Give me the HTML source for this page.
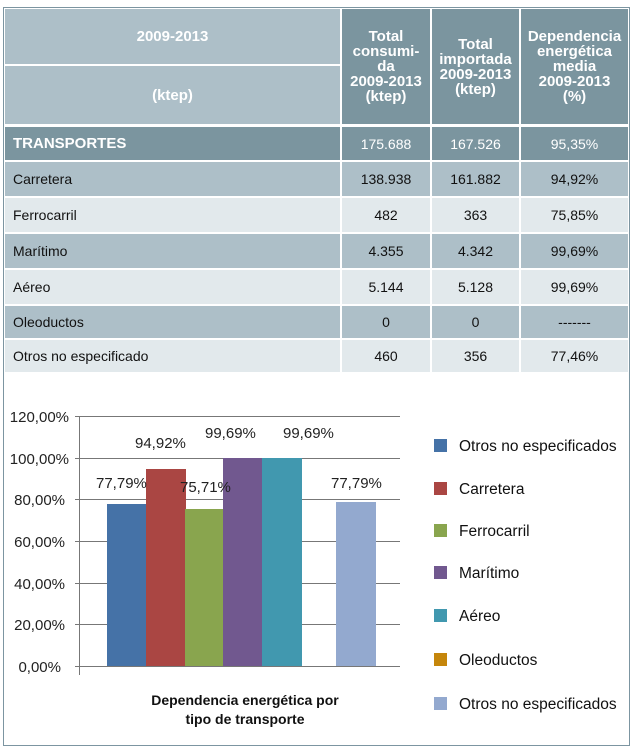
<!DOCTYPE html><html><head><style>
body{margin:0;width:634px;height:754px;background:#fff;font-family:"Liberation Sans",sans-serif;position:relative;overflow:hidden}
.o{position:absolute;left:3px;top:7px;width:625px;height:737px;border:1px solid #7c95a1}
.c{position:absolute;display:flex;align-items:center;justify-content:center;font-size:14px;color:#111;box-sizing:border-box}
.l{background:#adbfc8}.d{background:#7b959f;color:#fff;font-weight:bold}.p{background:#e2e9ec}
.L{justify-content:flex-start;padding-left:8px}
.h{color:#fff;font-weight:bold;font-size:15px;text-align:center;line-height:15px}
</style></head><body>
<div class="o"></div>
<div class="c l h" style="left:5px;top:9px;width:335px;height:55px">2009-2013</div>
<div class="c l h" style="left:5px;top:66px;width:335px;height:58px">(ktep)</div>
<div class="c d h" style="left:342px;top:9px;width:88px;height:115px">Total<br>consumi-<br>da<br>2009-2013<br>(ktep)</div>
<div class="c d h" style="left:432px;top:9px;width:87px;height:115px">Total<br>importada<br>2009-2013<br>(ktep)</div>
<div class="c d h" style="left:521px;top:9px;width:107px;height:115px">Dependencia<br>energética<br>media<br>2009-2013<br>(%)</div>
<div id="rows"></div>
<svg style="position:absolute;left:0;top:0" width="634" height="754" font-family="Liberation Sans, sans-serif">
<g stroke="#777" stroke-width="1">
<line x1="75" y1="416.5" x2="400" y2="416.5"/><line x1="75" y1="458.5" x2="400" y2="458.5"/><line x1="75" y1="499.5" x2="400" y2="499.5"/><line x1="75" y1="541.5" x2="400" y2="541.5"/><line x1="75" y1="583.5" x2="400" y2="583.5"/><line x1="75" y1="624.5" x2="400" y2="624.5"/><line x1="75" y1="666.5" x2="400" y2="666.5"/><line x1="79.5" y1="416" x2="79.5" y2="675"/>
</g>
<g font-size="15" fill="#222" text-anchor="end">
<text x="69" y="422">120,00%</text><text x="69" y="464">100,00%</text><text x="65" y="505">80,00%</text><text x="65" y="547">60,00%</text><text x="65" y="589">40,00%</text><text x="65" y="630">20,00%</text><text x="61" y="672">0,00%</text>
</g>
<rect x="107" y="504" width="39" height="162" fill="#4572a7"/>
<rect x="146" y="469" width="40" height="197" fill="#aa4643"/>
<rect x="185" y="509" width="38" height="157" fill="#89a54e"/>
<rect x="223" y="458" width="39" height="208" fill="#71588f"/>
<rect x="262" y="458" width="40" height="208" fill="#4198af"/>
<rect x="336" y="502" width="40" height="164" fill="#93a9cf"/>
<g font-size="15" fill="#222">
<text x="96" y="488">77,79%</text><text x="135" y="448">94,92%</text><text x="180" y="492">75,71%</text><text x="205" y="438">99,69%</text><text x="283" y="438">99,69%</text><text x="331" y="488">77,79%</text>
</g>
<g font-size="14" font-weight="bold" fill="#111" text-anchor="middle"><text x="245" y="705">Dependencia energética por</text><text x="245" y="724">tipo de transporte</text></g>
<g font-size="15.5" fill="#111">
<rect x="434" y="439" width="13" height="13" fill="#4572a7"/><text x="459" y="451">Otros no especificados</text>
<rect x="434" y="482" width="13" height="13" fill="#aa4643"/><text x="459" y="494">Carretera</text>
<rect x="434" y="524" width="13" height="13" fill="#89a54e"/><text x="459" y="536">Ferrocarril</text>
<rect x="434" y="566" width="13" height="13" fill="#71588f"/><text x="459" y="578">Marítimo</text>
<rect x="434" y="609" width="13" height="13" fill="#4198af"/><text x="459" y="621">Aéreo</text>
<rect x="434" y="653" width="13" height="13" fill="#c5860b"/><text x="459" y="665">Oleoductos</text>
<rect x="434" y="697" width="13" height="13" fill="#93a9cf"/><text x="459" y="709">Otros no especificados</text>
</g>
</svg>
<script>
var r=[["TRANSPORTES","175.688","167.526","95,35%","d",127,33],["Carretera","138.938","161.882","94,92%","l",162,34],["Ferrocarril","482","363","75,85%","p",198,34],["Marítimo","4.355","4.342","99,69%","l",234,34],["Aéreo","5.144","5.128","99,69%","p",270,34],["Oleoductos","0","0","-------","l",306,32],["Otros no especificado","460","356","77,46%","p",340,32]];
var cols=[[5,335],[342,88],[432,87],[521,107]],h="";
r.forEach(function(x){for(var i=0;i<4;i++){h+='<div class="c '+x[4]+(i==0?' L':'')+'" style="left:'+cols[i][0]+'px;top:'+x[5]+'px;width:'+cols[i][1]+'px;height:'+x[6]+'px'+(x[4]=='d'&&i>0?';font-weight:normal':'')+(x[4]=='d'&&i==0?';font-size:15px':'')+'">'+x[i]+'</div>';}});
document.getElementById('rows').innerHTML=h;
</script>
</body></html>
